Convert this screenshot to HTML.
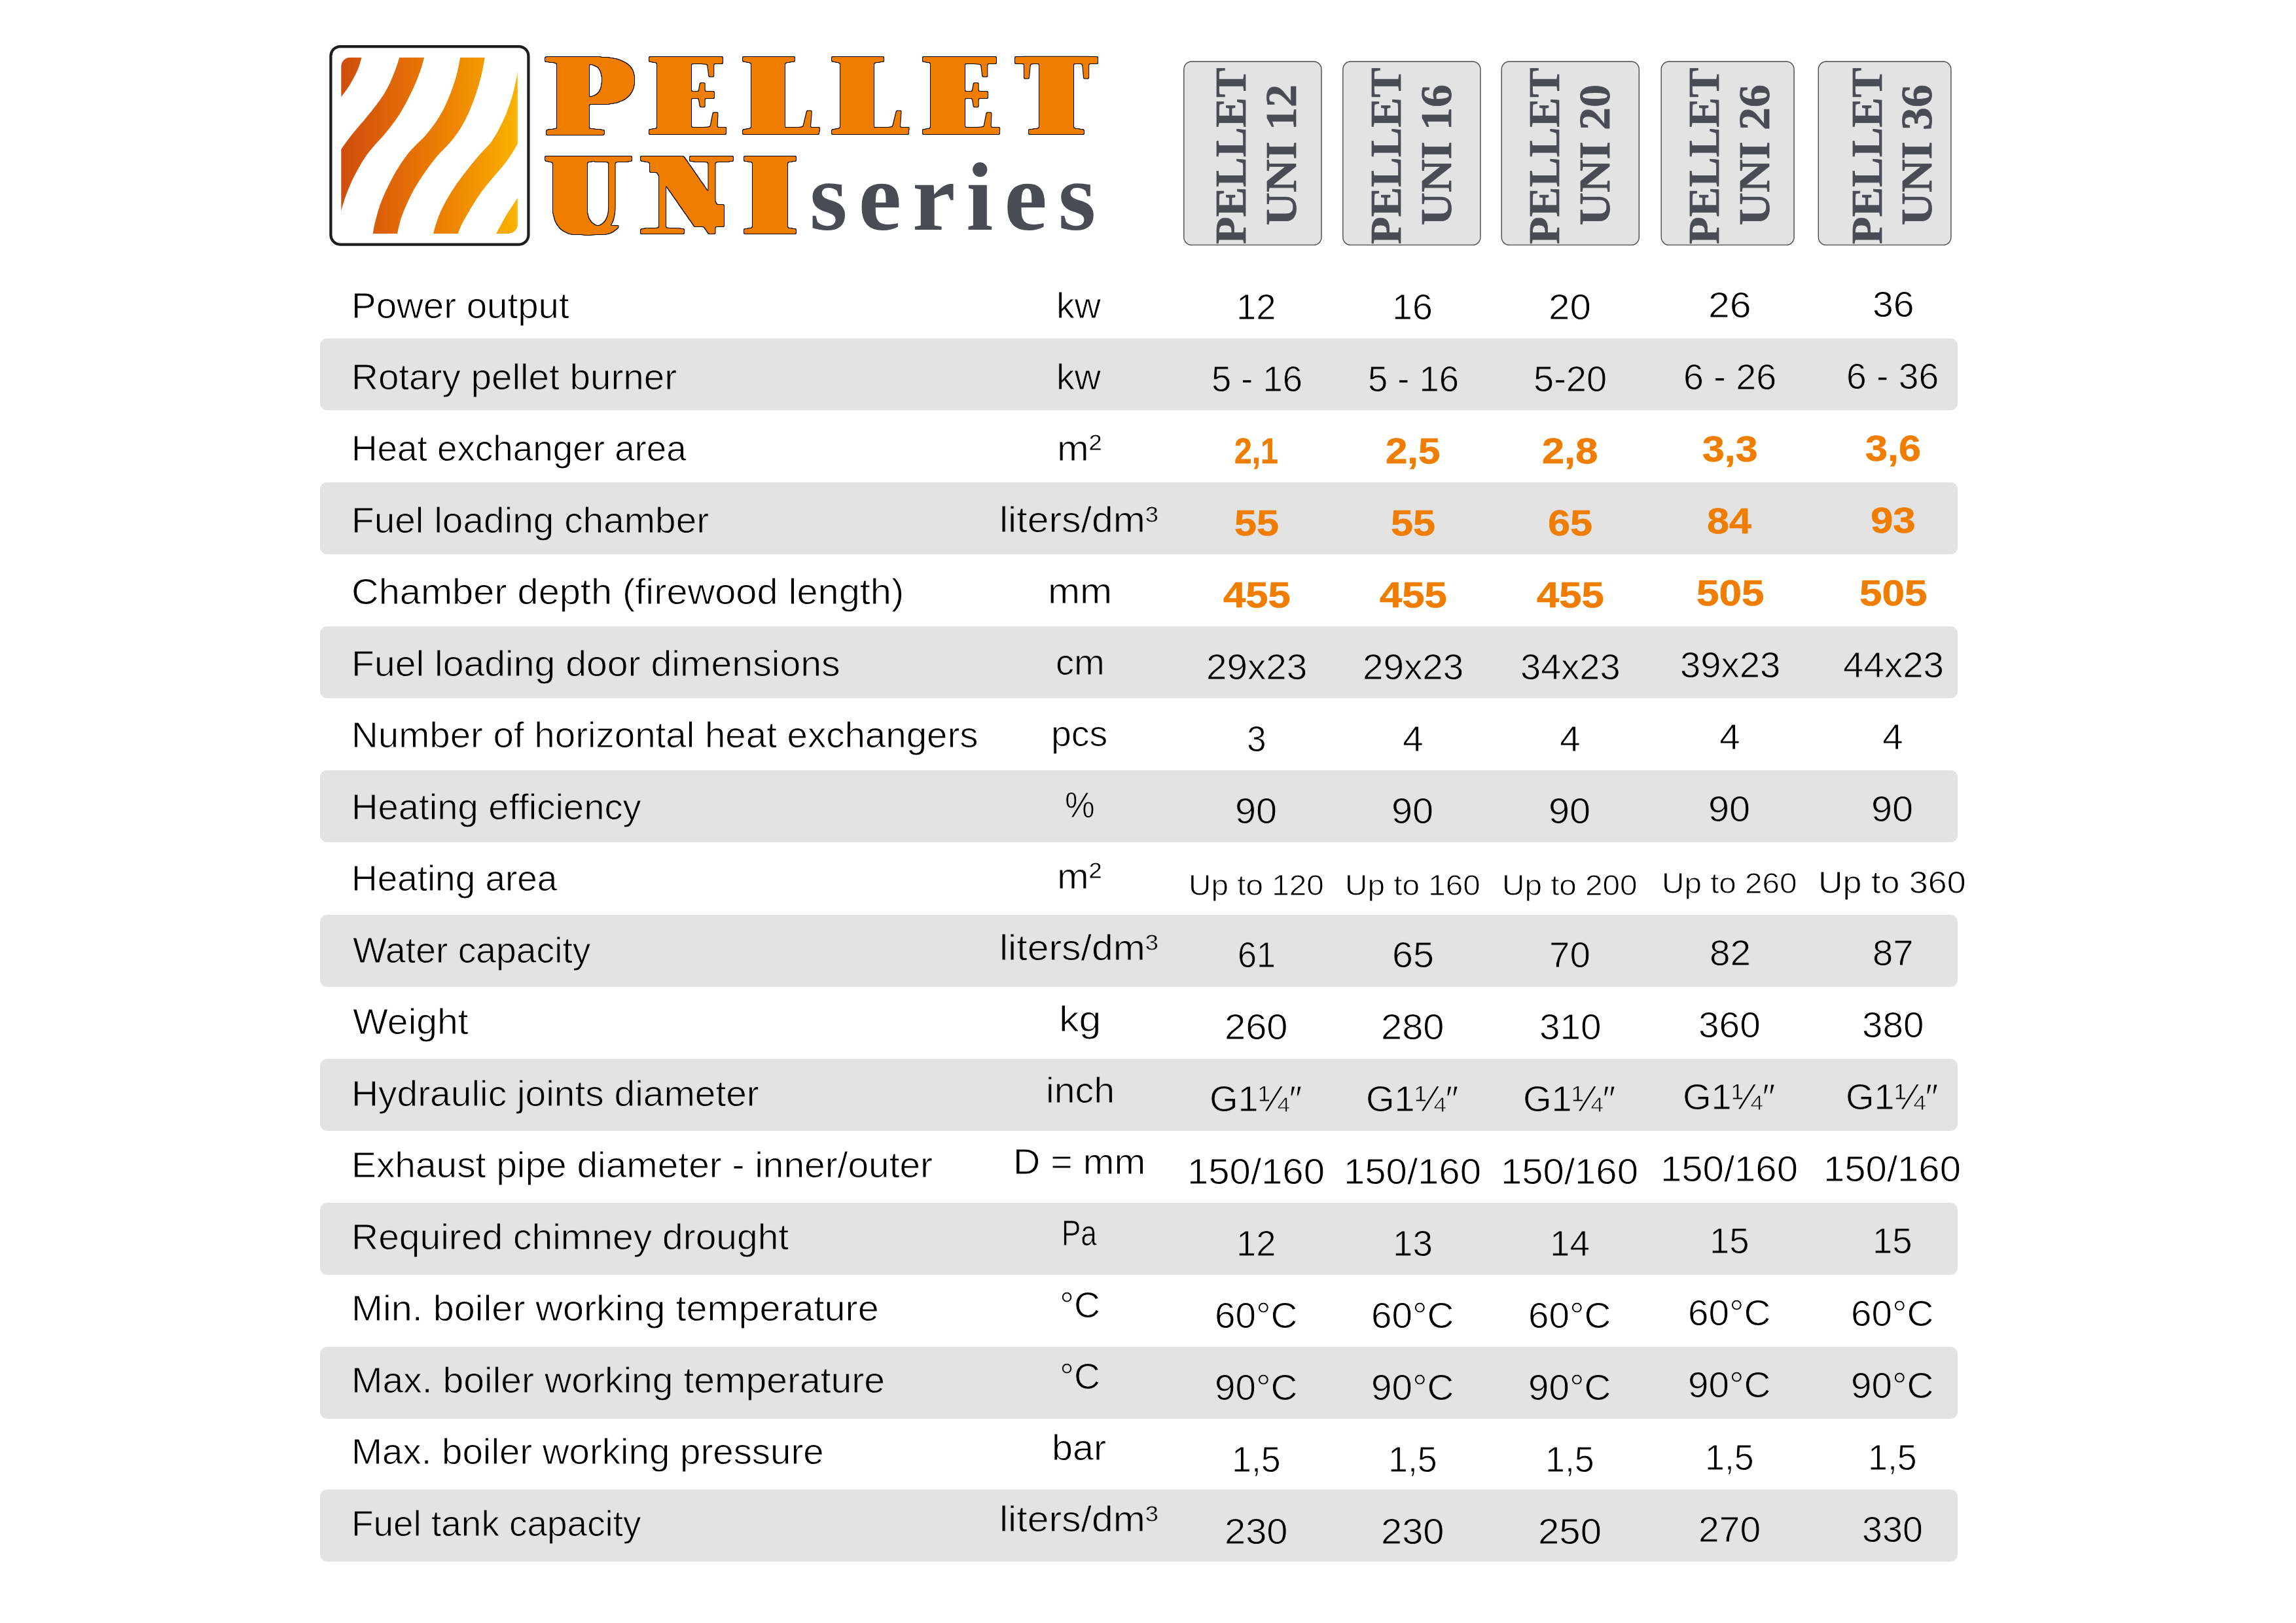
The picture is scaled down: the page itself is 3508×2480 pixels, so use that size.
<!DOCTYPE html>
<html lang="en"><head><meta charset="utf-8"><title>PELLET UNI series</title>
<style>
html,body{margin:0;padding:0;background:#fff}
body{width:3508px;height:2480px;position:relative;overflow:hidden;font-family:"Liberation Sans", sans-serif;color:#000}
.row{position:absolute;left:488.8px;width:2502.5px;height:110.2px;border-radius:11px;background:#e3e3e3}
.t{position:absolute;white-space:nowrap;line-height:1;transform-origin:0 0;font-family:"Liberation Sans", sans-serif}
.b{font-weight:bold;color:#ef7d00;-webkit-text-stroke:0.6px #ef7d00}
.w{-webkit-text-stroke:0.9px #fff}
.g{-webkit-text-stroke:0.9px #e3e3e3}
.hdr{position:absolute;left:0;top:0}
</style></head><body>
<svg class="hdr" width="3508" height="400" viewBox="0 0 3508 400">
<defs>
<linearGradient id="og" gradientUnits="userSpaceOnUse" x1="521.3" y1="0" x2="790.8" y2="0">
<stop offset="0" stop-color="#cf4d0e"/><stop offset="0.3" stop-color="#e06607"/><stop offset="0.62" stop-color="#ee8400"/><stop offset="0.82" stop-color="#f49c00"/><stop offset="1" stop-color="#f9b400"/>
</linearGradient>
<clipPath id="ic"><rect x="521.3" y="87.7" width="269.5" height="269.2" rx="14" ry="14"/></clipPath>
</defs>
<rect x="505.4" y="71.1" width="302" height="302.5" rx="14.5" ry="14.5" fill="#fff" stroke="#1d1d1b" stroke-width="4.2"/>
<g clip-path="url(#ic)" fill="url(#og)">
<path d="M511.3,87.7 L552.5,87.7 C551.6,90.5 549.8,98.6 547.3,104.8 C544.8,111.0 540.4,119.1 537.3,124.7 C534.2,130.3 531.4,134.4 528.7,138.3 C526.0,142.2 523.6,145.1 521.3,148.0 C519.0,150.9 516.0,154.7 515.0,156.0 Z"/>
<path d="M610.3,87.7 C609.7,89.5 608.3,94.5 606.9,98.6 C605.5,102.7 604.0,107.1 601.9,112.3 C599.8,117.5 597.3,123.9 594.4,129.7 C591.5,135.5 588.4,141.0 584.5,147.0 C580.6,153.0 575.2,159.9 570.9,165.6 C566.6,171.3 562.5,176.2 558.5,181.0 C554.5,185.8 551.0,189.7 547.0,194.5 C543.0,199.3 539.0,204.0 534.7,209.6 C530.4,215.2 524.8,223.2 521.3,228.1 C517.8,233.0 514.8,237.2 513.5,239.0 L518.0,334.0 C518.5,332.0 520.1,325.9 521.3,321.8 C522.4,317.7 523.3,314.4 524.9,309.4 C526.5,304.4 528.6,298.2 531.1,292.0 C533.6,285.8 536.7,278.5 539.8,272.1 C542.9,265.7 546.3,259.5 549.8,253.5 C553.3,247.5 557.3,241.2 560.9,236.1 C564.5,231.0 568.0,227.1 571.5,223.0 C575.0,218.9 578.2,216.0 582.0,211.6 C585.8,207.2 590.0,202.3 594.4,196.7 C598.8,191.1 603.8,184.7 608.1,178.1 C612.5,171.5 616.8,163.8 620.5,157.0 C624.2,150.2 627.5,143.3 630.4,137.1 C633.3,130.9 635.6,125.5 637.9,119.7 C640.2,113.9 642.4,107.6 644.1,102.3 C645.8,97.0 647.4,90.1 648.1,87.7 Z"/>
<path d="M703.1,87.7 C702.6,90.5 701.4,98.8 700.0,104.8 C698.6,110.8 697.1,116.8 695.0,123.4 C692.9,130.0 690.4,137.2 687.5,144.5 C684.6,151.8 681.5,159.5 677.6,166.9 C673.7,174.3 668.8,182.4 664.0,189.2 C659.2,196.0 653.9,202.4 649.1,207.9 C644.3,213.4 639.1,217.7 635.0,222.0 C630.9,226.3 628.1,228.9 624.2,233.7 C620.3,238.5 615.7,245.0 611.8,251.0 C607.9,257.0 604.1,263.3 600.6,269.7 C597.1,276.1 593.8,282.9 590.7,289.5 C587.6,296.1 584.5,302.8 582.0,309.4 C579.5,316.0 577.5,323.0 575.8,329.2 C574.0,335.4 572.5,342.0 571.5,346.6 C570.5,351.2 570.2,355.2 570.0,356.9 L607.1,356.9 C607.9,353.5 609.8,343.4 611.8,336.7 C613.8,330.0 616.4,323.6 619.3,316.8 C622.2,310.0 625.5,302.7 629.2,295.7 C632.9,288.7 637.2,281.4 641.6,274.6 C646.0,267.8 650.5,261.2 655.3,254.8 C660.1,248.4 665.6,241.5 670.2,236.1 C674.9,230.7 679.3,226.8 683.2,222.5 C687.1,218.2 689.9,215.4 693.7,210.3 C697.5,205.2 702.3,198.5 706.2,191.7 C710.1,184.9 714.0,176.8 717.3,169.4 C720.6,162.0 723.5,154.0 726.0,147.0 C728.5,140.0 730.3,133.8 732.2,127.2 C734.1,120.6 735.8,113.9 737.2,107.3 C738.6,100.7 740.1,91.0 740.7,87.7 Z"/>
<path d="M793.0,95.0 C792.6,97.5 791.6,104.8 790.8,109.8 C790.0,114.8 789.6,118.1 788.1,124.7 C786.6,131.3 784.4,141.2 781.9,149.5 C779.4,157.8 776.5,166.2 773.2,174.3 C769.9,182.4 765.7,190.9 762.0,197.9 C758.3,204.9 753.5,212.4 750.8,216.5 C748.1,220.6 749.1,218.8 745.8,222.5 C742.5,226.2 736.4,232.4 731.0,238.6 C725.6,244.8 719.0,252.9 713.6,259.7 C708.2,266.5 703.5,272.8 698.7,279.6 C694.0,286.4 689.2,293.7 685.1,300.7 C681.0,307.7 677.0,315.0 673.9,321.8 C670.8,328.6 668.4,335.8 666.4,341.6 C664.4,347.5 662.8,354.3 662.1,356.9 L700.0,356.9 C700.8,354.8 702.6,348.9 704.9,344.1 C707.2,339.3 710.3,333.8 713.6,328.0 C716.9,322.2 720.7,315.8 724.8,309.4 C728.9,303.0 733.4,296.1 738.4,289.5 C743.4,282.9 749.4,275.9 754.6,269.7 C759.8,263.5 765.0,258.1 769.5,252.3 C774.0,246.5 778.4,240.3 781.9,234.9 C785.4,229.5 787.8,224.8 790.8,220.0 C793.8,215.2 798.5,208.3 800.0,206.0 Z"/>
<path d="M800.0,289.0 C798.5,291.2 794.8,296.4 790.8,302.5 C786.8,308.6 779.9,318.8 775.7,325.5 C771.5,332.2 768.6,337.7 765.7,342.9 C762.8,348.1 759.5,354.6 758.3,356.9 L800.8,356.9 Z"/>
</g>
<filter id="fat8" filterUnits="userSpaceOnUse" x="800" y="60" width="920" height="330" color-interpolation-filters="sRGB">
<feMorphology in="SourceAlpha" operator="erode" radius="8.0 0" result="e"/>
<feComponentTransfer in="e" result="eb"><feFuncA type="discrete" tableValues="0 0 1 1"/></feComponentTransfer>
<feMorphology in="eb" operator="dilate" radius="16.0 0" result="d"/>
<feMerge result="f0"><feMergeNode in="SourceAlpha"/><feMergeNode in="d"/></feMerge>
<feGaussianBlur in="f0" stdDeviation="0.8" result="f1"/>
<feComponentTransfer in="f1" result="f"><feFuncA type="linear" slope="3" intercept="-1"/></feComponentTransfer>
<feMorphology in="f" operator="dilate" radius="1.0 1.0" result="o"/>
<feFlood flood-color="#000" result="kc"/><feComposite in="kc" in2="o" operator="in" result="k"/>
<feFlood flood-color="#ef7d00" result="oc"/><feComposite in="oc" in2="f" operator="in" result="g"/>
<feMerge><feMergeNode in="k"/><feMergeNode in="g"/></feMerge>
</filter>
<g filter="url(#fat8)" font-family="Liberation Serif, serif" font-weight="bold" font-size="181.0" fill="#ef7d00">
<text transform="translate(837.7,204.6) scale(1.1716,1)">P</text>
</g>
<filter id="fat14" filterUnits="userSpaceOnUse" x="800" y="60" width="920" height="330" color-interpolation-filters="sRGB">
<feMorphology in="SourceAlpha" operator="erode" radius="8.0 0" result="e"/>
<feComponentTransfer in="e" result="eb"><feFuncA type="discrete" tableValues="0 0 1 1"/></feComponentTransfer>
<feMorphology in="eb" operator="dilate" radius="22.0 0" result="d"/>
<feMerge result="f0"><feMergeNode in="SourceAlpha"/><feMergeNode in="d"/></feMerge>
<feGaussianBlur in="f0" stdDeviation="0.8" result="f1"/>
<feComponentTransfer in="f1" result="f"><feFuncA type="linear" slope="3" intercept="-1"/></feComponentTransfer>
<feMorphology in="f" operator="dilate" radius="1.0 1.0" result="o"/>
<feFlood flood-color="#000" result="kc"/><feComposite in="kc" in2="o" operator="in" result="k"/>
<feFlood flood-color="#ef7d00" result="oc"/><feComposite in="oc" in2="f" operator="in" result="g"/>
<feMerge><feMergeNode in="k"/><feMergeNode in="g"/></feMerge>
</filter>
<g filter="url(#fat14)" font-family="Liberation Serif, serif" font-weight="bold" font-size="181.0" fill="#ef7d00">
<text transform="translate(1002.9,204.6) scale(0.8386,1)">E</text>
<text transform="translate(1146.7,204.6) scale(0.8232,1)">L</text>
<text transform="translate(1282.7,204.6) scale(0.8305,1)">L</text>
<text transform="translate(1420.9,204.6) scale(0.8386,1)">E</text>
<text transform="translate(1562.5,204.6) scale(0.8529,1)">T</text>
<text transform="translate(843.4,357.1) scale(0.8518,1)">U</text>
<text transform="translate(990.2,357.1) scale(0.9036,1)">N</text>
<text transform="translate(1145.4,357.1) scale(0.8772,1)">I</text>
</g>
<text x="1237.0" y="350.5" font-family="Liberation Serif, serif" font-weight="bold" font-size="148" letter-spacing="16.8" fill="#4a4c55">series</text>
<rect x="1808.8" y="94" width="210.2" height="280.4" rx="12" ry="12" fill="#e3e3e3" stroke="#4a4a49" stroke-width="1.4"/>
<text transform="translate(1903.2,373) rotate(-90) scale(1.02,1)" font-family="Liberation Serif, serif" font-weight="bold" font-size="67" fill="#4a4c55" stroke="#4a4c55" stroke-width="0.7">PELLET</text>
<text transform="translate(1980.1,344.5) rotate(-90) scale(1.043,1)" font-family="Liberation Serif, serif" font-weight="bold" font-size="67" fill="#4a4c55" stroke="#4a4c55" stroke-width="0.7">UNI 12</text>
<rect x="2051.8" y="94" width="210.1" height="280.4" rx="12" ry="12" fill="#e3e3e3" stroke="#4a4a49" stroke-width="1.4"/>
<text transform="translate(2140.2,373) rotate(-90) scale(1.02,1)" font-family="Liberation Serif, serif" font-weight="bold" font-size="67" fill="#4a4c55" stroke="#4a4c55" stroke-width="0.7">PELLET</text>
<text transform="translate(2217.1,344.5) rotate(-90) scale(1.043,1)" font-family="Liberation Serif, serif" font-weight="bold" font-size="67" fill="#4a4c55" stroke="#4a4c55" stroke-width="0.7">UNI 16</text>
<rect x="2294.2" y="94" width="210.1" height="280.4" rx="12" ry="12" fill="#e3e3e3" stroke="#4a4a49" stroke-width="1.4"/>
<text transform="translate(2381.8,373) rotate(-90) scale(1.02,1)" font-family="Liberation Serif, serif" font-weight="bold" font-size="67" fill="#4a4c55" stroke="#4a4c55" stroke-width="0.7">PELLET</text>
<text transform="translate(2458.7,344.5) rotate(-90) scale(1.043,1)" font-family="Liberation Serif, serif" font-weight="bold" font-size="67" fill="#4a4c55" stroke="#4a4c55" stroke-width="0.7">UNI 20</text>
<rect x="2538.2" y="94" width="202.9" height="280.4" rx="12" ry="12" fill="#e3e3e3" stroke="#4a4a49" stroke-width="1.4"/>
<text transform="translate(2625.5,373) rotate(-90) scale(1.02,1)" font-family="Liberation Serif, serif" font-weight="bold" font-size="67" fill="#4a4c55" stroke="#4a4c55" stroke-width="0.7">PELLET</text>
<text transform="translate(2702.6,344.5) rotate(-90) scale(1.043,1)" font-family="Liberation Serif, serif" font-weight="bold" font-size="67" fill="#4a4c55" stroke="#4a4c55" stroke-width="0.7">UNI 26</text>
<rect x="2778.3" y="94" width="202.6" height="280.4" rx="12" ry="12" fill="#e3e3e3" stroke="#4a4a49" stroke-width="1.4"/>
<text transform="translate(2874.6,373) rotate(-90) scale(1.02,1)" font-family="Liberation Serif, serif" font-weight="bold" font-size="67" fill="#4a4c55" stroke="#4a4c55" stroke-width="0.7">PELLET</text>
<text transform="translate(2951.1,344.5) rotate(-90) scale(1.043,1)" font-family="Liberation Serif, serif" font-weight="bold" font-size="67" fill="#4a4c55" stroke="#4a4c55" stroke-width="0.7">UNI 36</text>
</svg>

<div class="row" style="top:516.7px"></div>
<div class="row" style="top:737.0px"></div>
<div class="row" style="top:957.3px"></div>
<div class="row" style="top:1177.3px"></div>
<div class="row" style="top:1397.6px"></div>
<div class="row" style="top:1617.7px"></div>
<div class="row" style="top:1837.8px"></div>
<div class="row" style="top:2058.1px"></div>
<div class="row" style="top:2275.9px"></div>
<span class="t w" style="left:537.0px;top:438.5px;font-size:56px;transform:scaleX(1.0080)">Power output</span>
<span class="t w" style="left:1614.2px;top:438.5px;font-size:56px;transform:scaleX(0.9935)">kw</span>
<span class="t w" style="left:1889.2px;top:440.5px;font-size:56px;transform:scaleX(0.9713)">12</span>
<span class="t w" style="left:2127.4px;top:440.5px;font-size:56px;transform:scaleX(0.9943)">16</span>
<span class="t w" style="left:2365.9px;top:440.5px;font-size:56px;transform:scaleX(1.0417)">20</span>
<span class="t w" style="left:2610.0px;top:437.7px;font-size:56px;transform:scaleX(1.0541)">26</span>
<span class="t w" style="left:2860.5px;top:437.1px;font-size:56px;transform:scaleX(1.0211)">36</span>
<span class="t g" style="left:537.0px;top:548.0px;font-size:56px;transform:scaleX(1.0108)">Rotary pellet burner</span>
<span class="t g" style="left:1614.2px;top:547.6px;font-size:56px;transform:scaleX(0.9935)">kw</span>
<span class="t g" style="left:1850.7px;top:550.6px;font-size:56px;transform:scaleX(0.9714)">5 - 16</span>
<span class="t g" style="left:2089.7px;top:550.6px;font-size:56px;transform:scaleX(0.9714)">5 - 16</span>
<span class="t g" style="left:2342.8px;top:550.6px;font-size:56px;transform:scaleX(0.9997)">5-20</span>
<span class="t g" style="left:2571.7px;top:547.7px;font-size:56px;transform:scaleX(0.9927)">6 - 26</span>
<span class="t g" style="left:2821.2px;top:547.2px;font-size:56px;transform:scaleX(0.9870)">6 - 36</span>
<span class="t w" style="left:537.2px;top:657.4px;font-size:56px;transform:scaleX(0.9786)">Heat exchanger area</span>
<span class="t w" style="left:1614.5px;top:656.6px;font-size:56px;transform:scaleX(1.0451)">m²</span>
<span class="t b" style="left:1886.4px;top:660.7px;font-size:56px;transform:scaleX(0.8581)">2,1</span>
<span class="t b" style="left:2117.1px;top:660.7px;font-size:56px;transform:scaleX(1.0709)">2,5</span>
<span class="t b" style="left:2356.2px;top:660.7px;font-size:56px;transform:scaleX(1.0950)">2,8</span>
<span class="t b" style="left:2601.0px;top:657.8px;font-size:56px;transform:scaleX(1.0863)">3,3</span>
<span class="t b" style="left:2849.7px;top:657.3px;font-size:56px;transform:scaleX(1.0929)">3,6</span>
<span class="t g" style="left:537.0px;top:766.9px;font-size:56px;transform:scaleX(1.0141)">Fuel loading chamber</span>
<span class="t g" style="left:1527.3px;top:765.7px;font-size:56px;transform:scaleX(1.0540)">liters/dm³</span>
<span class="t b" style="left:1886.3px;top:770.7px;font-size:56px;transform:scaleX(1.0913)">55</span>
<span class="t b" style="left:2125.3px;top:770.7px;font-size:56px;transform:scaleX(1.0913)">55</span>
<span class="t b" style="left:2364.8px;top:770.7px;font-size:56px;transform:scaleX(1.0922)">65</span>
<span class="t b" style="left:2607.9px;top:767.8px;font-size:56px;transform:scaleX(1.0904)">84</span>
<span class="t b" style="left:2857.5px;top:767.4px;font-size:56px;transform:scaleX(1.1024)">93</span>
<span class="t w" style="left:537.0px;top:876.4px;font-size:56px;transform:scaleX(1.0311)">Chamber depth (firewood length)</span>
<span class="t w" style="left:1600.9px;top:874.8px;font-size:56px;transform:scaleX(1.0530)">mm</span>
<span class="t b" style="left:1869.3px;top:880.8px;font-size:56px;transform:scaleX(1.1006)">455</span>
<span class="t b" style="left:2108.3px;top:880.8px;font-size:56px;transform:scaleX(1.1006)">455</span>
<span class="t b" style="left:2348.3px;top:880.8px;font-size:56px;transform:scaleX(1.1006)">455</span>
<span class="t b" style="left:2591.5px;top:877.9px;font-size:56px;transform:scaleX(1.1079)">505</span>
<span class="t b" style="left:2840.5px;top:877.5px;font-size:56px;transform:scaleX(1.1079)">505</span>
<span class="t g" style="left:537.0px;top:985.8px;font-size:56px;transform:scaleX(1.0205)">Fuel loading door dimensions</span>
<span class="t g" style="left:1613.4px;top:983.8px;font-size:56px;transform:scaleX(1.0029)">cm</span>
<span class="t g" style="left:1842.6px;top:990.9px;font-size:56px;transform:scaleX(1.0116)">29x23</span>
<span class="t g" style="left:2081.6px;top:990.9px;font-size:56px;transform:scaleX(1.0116)">29x23</span>
<span class="t g" style="left:2322.9px;top:990.9px;font-size:56px;transform:scaleX(1.0003)">34x23</span>
<span class="t g" style="left:2566.6px;top:987.9px;font-size:56px;transform:scaleX(1.0050)">39x23</span>
<span class="t g" style="left:2815.7px;top:987.6px;font-size:56px;transform:scaleX(1.0098)">44x23</span>
<span class="t w" style="left:537.0px;top:1095.3px;font-size:56px;transform:scaleX(1.0085)">Number of horizontal heat exchangers</span>
<span class="t w" style="left:1606.3px;top:1092.9px;font-size:56px;transform:scaleX(0.9891)">pcs</span>
<span class="t w" style="left:1905.4px;top:1101.0px;font-size:56px;transform:scaleX(0.9512)">3</span>
<span class="t w" style="left:2143.4px;top:1101.0px;font-size:56px;transform:scaleX(1.0182)">4</span>
<span class="t w" style="left:2383.4px;top:1101.0px;font-size:56px;transform:scaleX(1.0182)">4</span>
<span class="t w" style="left:2627.4px;top:1098.0px;font-size:56px;transform:scaleX(1.0182)">4</span>
<span class="t w" style="left:2876.4px;top:1097.7px;font-size:56px;transform:scaleX(1.0182)">4</span>
<span class="t g" style="left:537.1px;top:1204.8px;font-size:56px;transform:scaleX(1.0036)">Heating efficiency</span>
<span class="t g" style="left:1627.4px;top:1202.0px;font-size:56px;transform:scaleX(0.9186)">%</span>
<span class="t g" style="left:1887.2px;top:1211.1px;font-size:56px;transform:scaleX(1.0314)">90</span>
<span class="t g" style="left:2126.2px;top:1211.1px;font-size:56px;transform:scaleX(1.0314)">90</span>
<span class="t g" style="left:2366.2px;top:1211.1px;font-size:56px;transform:scaleX(1.0314)">90</span>
<span class="t g" style="left:2610.2px;top:1208.0px;font-size:56px;transform:scaleX(1.0314)">90</span>
<span class="t g" style="left:2859.2px;top:1207.8px;font-size:56px;transform:scaleX(1.0314)">90</span>
<span class="t w" style="left:537.2px;top:1314.3px;font-size:56px;transform:scaleX(0.9800)">Heating area</span>
<span class="t w" style="left:1614.5px;top:1311.1px;font-size:56px;transform:scaleX(1.0451)">m²</span>
<span class="t w" style="left:1815.8px;top:1331.3px;font-size:44px;transform:scaleX(1.0831)">Up to 120</span>
<span class="t w" style="left:2054.8px;top:1331.3px;font-size:44px;transform:scaleX(1.0831)">Up to 160</span>
<span class="t w" style="left:2294.8px;top:1331.3px;font-size:44px;transform:scaleX(1.0826)">Up to 200</span>
<span class="t w" style="left:2538.8px;top:1328.3px;font-size:44px;transform:scaleX(1.0826)">Up to 260</span>
<span class="t w" style="left:2778.2px;top:1324.7px;font-size:48px;transform:scaleX(1.0841)">Up to 360</span>
<span class="t g" style="left:539.3px;top:1423.7px;font-size:56px;transform:scaleX(0.9868)">Water capacity</span>
<span class="t g" style="left:1527.3px;top:1420.1px;font-size:56px;transform:scaleX(1.0540)">liters/dm³</span>
<span class="t g" style="left:1890.9px;top:1431.2px;font-size:56px;transform:scaleX(0.9304)">61</span>
<span class="t g" style="left:2126.9px;top:1431.2px;font-size:56px;transform:scaleX(1.0262)">65</span>
<span class="t g" style="left:2366.9px;top:1431.2px;font-size:56px;transform:scaleX(1.0108)">70</span>
<span class="t g" style="left:2611.7px;top:1428.1px;font-size:56px;transform:scaleX(1.0125)">82</span>
<span class="t g" style="left:2860.9px;top:1428.0px;font-size:56px;transform:scaleX(1.0057)">87</span>
<span class="t w" style="left:539.3px;top:1533.2px;font-size:56px;transform:scaleX(1.0198)">Weight</span>
<span class="t w" style="left:1617.9px;top:1529.2px;font-size:56px;transform:scaleX(1.0876)">kg</span>
<span class="t w" style="left:1871.1px;top:1541.3px;font-size:56px;transform:scaleX(1.0334)">260</span>
<span class="t w" style="left:2110.1px;top:1541.3px;font-size:56px;transform:scaleX(1.0334)">280</span>
<span class="t w" style="left:2351.5px;top:1541.3px;font-size:56px;transform:scaleX(1.0134)">310</span>
<span class="t w" style="left:2595.4px;top:1538.2px;font-size:56px;transform:scaleX(1.0145)">360</span>
<span class="t w" style="left:2844.6px;top:1538.1px;font-size:56px;transform:scaleX(1.0101)">380</span>
<span class="t g" style="left:537.0px;top:1642.7px;font-size:56px;transform:scaleX(1.0158)">Hydraulic joints diameter</span>
<span class="t g" style="left:1597.6px;top:1638.3px;font-size:56px;transform:scaleX(1.0220)">inch</span>
<span class="t g" style="left:1848.3px;top:1651.4px;font-size:56px;transform:scaleX(1.0012)">G1¼″</span>
<span class="t g" style="left:2087.3px;top:1651.4px;font-size:56px;transform:scaleX(1.0012)">G1¼″</span>
<span class="t g" style="left:2327.3px;top:1651.4px;font-size:56px;transform:scaleX(1.0012)">G1¼″</span>
<span class="t g" style="left:2571.3px;top:1648.2px;font-size:56px;transform:scaleX(1.0012)">G1¼″</span>
<span class="t g" style="left:2820.3px;top:1648.2px;font-size:56px;transform:scaleX(1.0012)">G1¼″</span>
<span class="t w" style="left:537.0px;top:1752.1px;font-size:56px;transform:scaleX(1.0152)">Exhaust pipe diameter - inner/outer</span>
<span class="t w" style="left:1548.4px;top:1747.3px;font-size:56px;transform:scaleX(1.0237)">D = mm</span>
<span class="t w" style="left:1813.9px;top:1761.5px;font-size:56px;transform:scaleX(1.0373)">150/160</span>
<span class="t w" style="left:2052.9px;top:1761.5px;font-size:56px;transform:scaleX(1.0373)">150/160</span>
<span class="t w" style="left:2292.9px;top:1761.5px;font-size:56px;transform:scaleX(1.0373)">150/160</span>
<span class="t w" style="left:2536.9px;top:1758.3px;font-size:56px;transform:scaleX(1.0373)">150/160</span>
<span class="t w" style="left:2785.9px;top:1758.3px;font-size:56px;transform:scaleX(1.0373)">150/160</span>
<span class="t g" style="left:537.0px;top:1861.6px;font-size:56px;transform:scaleX(1.0173)">Required chimney drought</span>
<span class="t g" style="left:1621.5px;top:1856.4px;font-size:56px;transform:scaleX(0.7863)">Pa</span>
<span class="t g" style="left:1889.2px;top:1871.5px;font-size:56px;transform:scaleX(0.9713)">12</span>
<span class="t g" style="left:2127.9px;top:1871.5px;font-size:56px;transform:scaleX(0.9784)">13</span>
<span class="t g" style="left:2367.5px;top:1871.5px;font-size:56px;transform:scaleX(0.9792)">14</span>
<span class="t g" style="left:2612.1px;top:1868.3px;font-size:56px;transform:scaleX(0.9731)">15</span>
<span class="t g" style="left:2861.1px;top:1868.4px;font-size:56px;transform:scaleX(0.9731)">15</span>
<span class="t w" style="left:537.0px;top:1971.1px;font-size:56px;transform:scaleX(1.0273)">Min. boiler working temperature</span>
<span class="t w" style="left:1619.0px;top:1965.5px;font-size:56px;transform:scaleX(0.9868)">°C</span>
<span class="t w" style="left:1856.4px;top:1981.6px;font-size:56px;transform:scaleX(1.0103)">60°C</span>
<span class="t w" style="left:2095.4px;top:1981.6px;font-size:56px;transform:scaleX(1.0103)">60°C</span>
<span class="t w" style="left:2335.4px;top:1981.6px;font-size:56px;transform:scaleX(1.0103)">60°C</span>
<span class="t w" style="left:2579.4px;top:1978.4px;font-size:56px;transform:scaleX(1.0103)">60°C</span>
<span class="t w" style="left:2828.4px;top:1978.5px;font-size:56px;transform:scaleX(1.0103)">60°C</span>
<span class="t g" style="left:537.0px;top:2080.5px;font-size:56px;transform:scaleX(1.0190)">Max. boiler working temperature</span>
<span class="t g" style="left:1619.0px;top:2074.5px;font-size:56px;transform:scaleX(0.9868)">°C</span>
<span class="t g" style="left:1856.4px;top:2091.7px;font-size:56px;transform:scaleX(1.0103)">90°C</span>
<span class="t g" style="left:2095.4px;top:2091.7px;font-size:56px;transform:scaleX(1.0103)">90°C</span>
<span class="t g" style="left:2335.4px;top:2091.7px;font-size:56px;transform:scaleX(1.0103)">90°C</span>
<span class="t g" style="left:2579.4px;top:2088.4px;font-size:56px;transform:scaleX(1.0103)">90°C</span>
<span class="t g" style="left:2828.4px;top:2088.6px;font-size:56px;transform:scaleX(1.0103)">90°C</span>
<span class="t w" style="left:537.0px;top:2190.0px;font-size:56px;transform:scaleX(1.0082)">Max. boiler working pressure</span>
<span class="t w" style="left:1607.1px;top:2183.6px;font-size:56px;transform:scaleX(1.0264)">bar</span>
<span class="t w" style="left:1882.0px;top:2201.8px;font-size:56px;transform:scaleX(0.9601)">1,5</span>
<span class="t w" style="left:2121.0px;top:2201.8px;font-size:56px;transform:scaleX(0.9601)">1,5</span>
<span class="t w" style="left:2361.0px;top:2201.8px;font-size:56px;transform:scaleX(0.9601)">1,5</span>
<span class="t w" style="left:2605.0px;top:2198.5px;font-size:56px;transform:scaleX(0.9601)">1,5</span>
<span class="t w" style="left:2854.0px;top:2198.7px;font-size:56px;transform:scaleX(0.9601)">1,5</span>
<span class="t g" style="left:537.2px;top:2299.5px;font-size:56px;transform:scaleX(0.9804)">Fuel tank capacity</span>
<span class="t g" style="left:1527.3px;top:2292.7px;font-size:56px;transform:scaleX(1.0540)">liters/dm³</span>
<span class="t g" style="left:1871.1px;top:2311.9px;font-size:56px;transform:scaleX(1.0334)">230</span>
<span class="t g" style="left:2110.1px;top:2311.9px;font-size:56px;transform:scaleX(1.0334)">230</span>
<span class="t g" style="left:2349.9px;top:2311.9px;font-size:56px;transform:scaleX(1.0379)">250</span>
<span class="t g" style="left:2594.8px;top:2308.5px;font-size:56px;transform:scaleX(1.0189)">270</span>
<span class="t g" style="left:2845.4px;top:2308.8px;font-size:56px;transform:scaleX(0.9935)">330</span>
</body></html>
